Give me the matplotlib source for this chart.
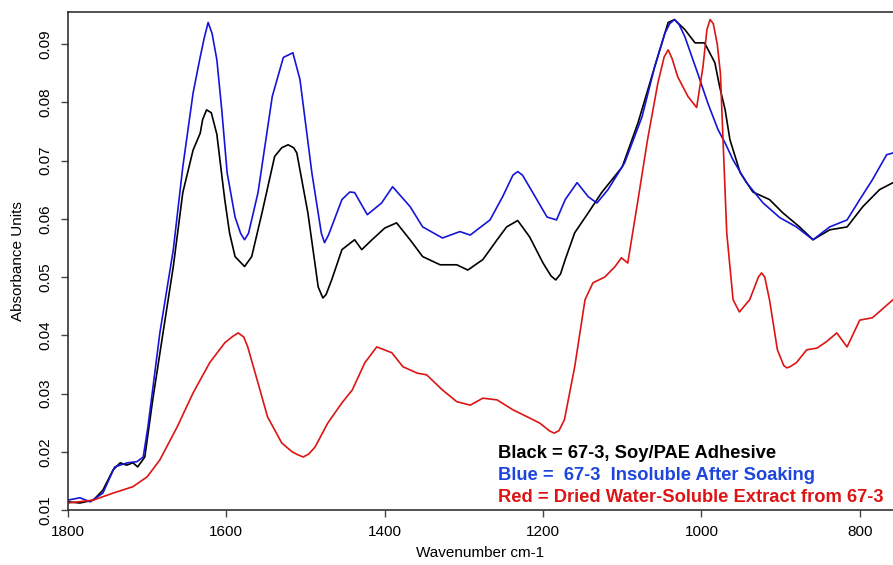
import matplotlib
matplotlib.use("Agg")
import matplotlib.pyplot as plt
import numpy as np

plt.rcParams['font.family'] = ['Liberation Sans', 'DejaVu Sans']

# black: 67-3, Soy/PAE adhesive
black_wn = [1800, 1785, 1768, 1756, 1743, 1734, 1726, 1718, 1712, 1703, 1693, 1680,
            1667, 1655, 1642, 1633, 1630, 1625, 1619, 1612, 1604, 1602, 1596, 1589,
            1577, 1568, 1555, 1539, 1530, 1522, 1515, 1511, 1497, 1484, 1480, 1478,
            1474, 1467, 1454, 1438, 1429, 1416, 1400, 1385, 1368, 1352, 1330, 1309,
            1295, 1276, 1258, 1246, 1232, 1217, 1200, 1190, 1184, 1178, 1172, 1160,
            1143, 1126, 1100, 1080, 1059, 1042, 1034, 1021, 1008, 996, 983, 977,
            970, 964, 951, 935, 914, 897, 876, 859, 838, 816, 796, 775, 758]
black_abs = [0.0114, 0.0112, 0.0117, 0.0134, 0.0169, 0.0181, 0.0177, 0.0181, 0.0174,
             0.0191, 0.0289, 0.0404, 0.0518, 0.0645, 0.0718, 0.0747, 0.0770, 0.0787,
             0.0782, 0.0745, 0.0655, 0.0633, 0.0576, 0.0535, 0.0518, 0.0535, 0.0610,
             0.0707, 0.0722, 0.0727, 0.0722, 0.0713, 0.0610, 0.0483, 0.0470, 0.0464,
             0.0470, 0.0495, 0.0547, 0.0564, 0.0547, 0.0564, 0.0584, 0.0593, 0.0564,
             0.0535, 0.0521, 0.0521, 0.0512, 0.0530, 0.0564, 0.0586, 0.0597, 0.0569,
             0.0524, 0.0502, 0.0495, 0.0505, 0.0530, 0.0576, 0.0610, 0.0645, 0.0689,
             0.0765, 0.0861, 0.0937, 0.0942, 0.0925, 0.0902, 0.0902, 0.0868, 0.0827,
             0.0787, 0.0736, 0.0679, 0.0646, 0.0633, 0.0610, 0.0586, 0.0564, 0.0581,
             0.0586, 0.0621, 0.0650, 0.0662]

# blue: 67-3 insoluble after soaking
blue_wn = [1800, 1785, 1772, 1756, 1741, 1725, 1713, 1705, 1699, 1684, 1667, 1655,
           1642, 1633, 1628, 1623, 1618, 1612, 1606, 1599, 1589, 1582, 1577, 1572,
           1560, 1542, 1528, 1516, 1507, 1492, 1480, 1476, 1471, 1454, 1444, 1438,
           1422, 1404, 1390, 1368, 1352, 1327, 1305, 1292, 1267, 1251, 1238, 1232,
           1226, 1213, 1195, 1183, 1172, 1157, 1143, 1132, 1118, 1097, 1075, 1059,
           1046, 1040, 1034, 1028, 1021, 1005, 992, 979, 970, 960, 943, 922, 901,
           880, 859, 838, 816, 800, 784, 766, 758]
blue_abs = [0.0117, 0.0121, 0.0114, 0.0129, 0.0174, 0.0181, 0.0183, 0.0191, 0.0243,
            0.0404, 0.0547, 0.0689, 0.0816, 0.0878, 0.0910, 0.0937, 0.0918, 0.0873,
            0.0790, 0.0679, 0.0603, 0.0575, 0.0564, 0.0575, 0.0645, 0.0810, 0.0877,
            0.0885, 0.0839, 0.0679, 0.0575, 0.0559, 0.0572, 0.0633, 0.0646, 0.0645,
            0.0607, 0.0627, 0.0655, 0.0621, 0.0586, 0.0567, 0.0578, 0.0572, 0.0598,
            0.0638, 0.0675, 0.0681, 0.0675, 0.0645, 0.0603, 0.0598, 0.0633, 0.0662,
            0.0638, 0.0627, 0.0650, 0.0696, 0.0775, 0.0861, 0.0919, 0.0935, 0.0942,
            0.0933, 0.0913, 0.0851, 0.0799, 0.0753, 0.0730, 0.0701, 0.0662, 0.0627,
            0.0602, 0.0586, 0.0564, 0.0586, 0.0598, 0.0633, 0.0667, 0.0710, 0.0713]

# red: dried water-soluble extract from 67-3
red_wn = [1800, 1768, 1743, 1718, 1700, 1684, 1662, 1642, 1621, 1602, 1592, 1585,
          1578, 1573, 1560, 1548, 1530, 1517, 1510, 1503, 1496, 1488, 1472, 1454,
          1441, 1425, 1410, 1391, 1377, 1359, 1347, 1327, 1309, 1292, 1276, 1258,
          1238, 1217, 1204, 1192, 1186, 1180, 1173, 1160, 1147, 1137, 1122, 1109,
          1101, 1093, 1080, 1068, 1055, 1047, 1042, 1037, 1030, 1017, 1006, 998,
          993, 989, 985, 980, 976, 968, 960, 952, 939, 928, 924, 920, 914, 904,
          896, 892, 888, 880, 867, 854, 842, 829, 816, 800, 784, 758]
red_abs = [0.0112, 0.0117, 0.0129, 0.0140, 0.0157, 0.0186, 0.0243, 0.0301, 0.0353,
           0.0387, 0.0398, 0.0404, 0.0397, 0.0380, 0.0318, 0.0260, 0.0215, 0.0200,
           0.0195, 0.0191, 0.0196, 0.0208, 0.0249, 0.0284, 0.0306, 0.0353, 0.0380,
           0.0370, 0.0346, 0.0335, 0.0332, 0.0306, 0.0286, 0.0280, 0.0292, 0.0289,
           0.0272, 0.0258, 0.0249, 0.0236, 0.0232, 0.0236, 0.0255, 0.0346, 0.0461,
           0.0490, 0.0500, 0.0518, 0.0533, 0.0524, 0.0633, 0.0736, 0.0833, 0.0878,
           0.0890, 0.0875, 0.0844, 0.0810, 0.0791, 0.0861, 0.0925, 0.0942, 0.0935,
           0.0900, 0.0850, 0.0576, 0.0461, 0.0440, 0.0461, 0.0500, 0.0507, 0.0500,
           0.0461, 0.0375, 0.0348, 0.0344, 0.0346, 0.0353, 0.0375, 0.0378, 0.0389,
           0.0404, 0.0380, 0.0426, 0.0430, 0.0461]

x_ticks = [1800, 1600, 1400, 1200, 1000, 800]
y_ticks = [0.01, 0.02, 0.03, 0.04, 0.05, 0.06, 0.07, 0.08, 0.09]

fig = plt.figure(figsize=(8.93, 5.65), dpi=100)
ax = fig.add_axes([68 / 893, 55 / 565, 825 / 893, 498 / 565])

ax.plot(black_wn, black_abs, color='black', lw=1.2)
ax.plot(blue_wn, blue_abs, color='#1515d8', lw=1.2)
ax.plot(red_wn, red_abs, color='#dd1414', lw=1.2)

ax.set_xlim(1800, 758)
ax.set_ylim(0.01, 0.0955)
ax.set_xticks(x_ticks)
ax.set_yticks(y_ticks)
ax.set_yticklabels(['%.2f' % v for v in y_ticks], rotation=90, va='center')
ax.tick_params(labelsize=11, length=5, width=1, color='#444444', pad=6)
for s in ['top', 'left', 'bottom']:
    ax.spines[s].set_color('#333333')
    ax.spines[s].set_linewidth(1.2)
ax.spines['right'].set_visible(False)

fig.text(18 / 893, 1 - 261 / 565, 'Absorbance Units', rotation=90,
         ha='center', va='center', fontsize=11)
fig.text(480 / 893, 1 - 553 / 565, 'Wavenumber cm-1', ha='center', va='center',
         fontsize=11)

legend_lines = [('Black = 67-3, Soy/PAE Adhesive', 'black'),
                ('Blue =  67-3  Insoluble After Soaking', '#1e46dc'),
                ('Red = Dried Water-Soluble Extract from 67-3', '#dd1414')]
for i, (txt, c) in enumerate(legend_lines):
    fig.text(498 / 893, 1 - (453 + 22.5 * i) / 565, txt, color=c,
             fontsize=13.2, fontweight='bold', ha='left', va='center')

fig.savefig('out.png', dpi=100)
